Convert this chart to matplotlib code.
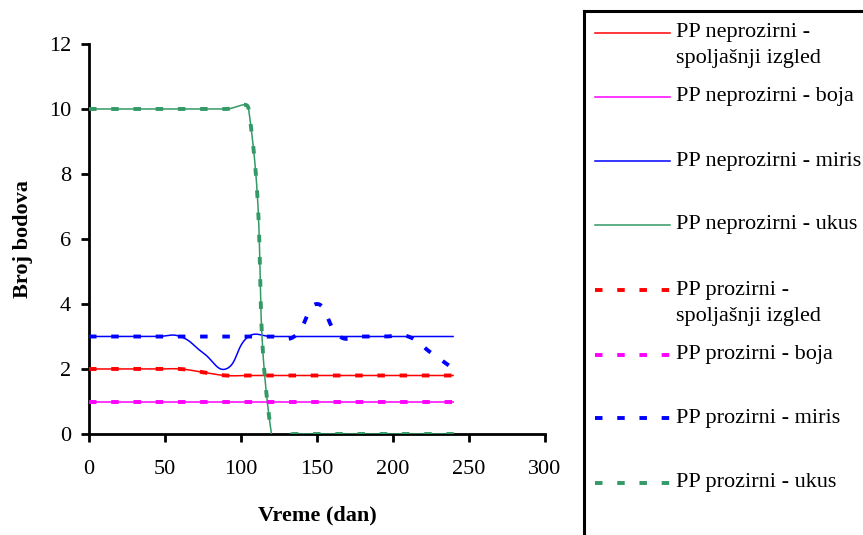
import numpy as np
import matplotlib
matplotlib.use("Agg")
import matplotlib.pyplot as plt

plt.rcParams['font.family'] = ['Liberation Serif', 'DejaVu Serif']
plt.rcParams['lines.scale_dashes'] = False

# ---------------- data ----------------
days = [0, 15, 30, 45, 60, 75, 90, 105, 120, 135, 150, 165, 180, 195, 210, 225, 240]

nep_izgled = [2, 2, 2, 2, 2, 1.9, 1.8, 1.8, 1.8, 1.8, 1.8, 1.8, 1.8, 1.8, 1.8, 1.8, 1.8]
nep_boja   = [1] * 17
nep_miris  = [3, 3, 3, 3, 3, 2.5, 2.0, 3, 3, 3, 3, 3, 3, 3, 3, 3, 3]
nep_ukus   = [10, 10, 10, 10, 10, 10, 10, 10, 0, 0, 0, 0, 0, 0, 0, 0, 0]

pro_izgled = [2, 2, 2, 2, 2, 1.9, 1.8, 1.8, 1.8, 1.8, 1.8, 1.8, 1.8, 1.8, 1.8, 1.8, 1.8]
pro_boja   = [1] * 17
pro_miris  = [3, 3, 3, 3, 3, 3, 3, 3, 3, 3, 4, 3, 3, 3, 3, 2.5, 2]
pro_ukus   = [10, 10, 10, 10, 10, 10, 10, 10, 0, 0, 0, 0, 0, 0, 0, 0, 0]

labels = ["PP neprozirni -\nspoljašnji izgled", "PP neprozirni - boja",
          "PP neprozirni - miris", "PP neprozirni - ukus",
          "PP prozirni -\nspoljašnji izgled", "PP prozirni - boja",
          "PP prozirni - miris", "PP prozirni - ukus"]

colors = ["#FF0000", "#FF00FF", "#0000FF", "#339966"]

xticks = [0, 50, 100, 150, 200, 250, 300]
yticks = [0, 2, 4, 6, 8, 10, 12]

# ---------------- figure ----------------
W, H = 863, 535
FS = 16
fig = plt.figure(figsize=(W / 100, H / 100), dpi=100)
ax = fig.add_axes([89 / W, (H - 434) / H, (545 - 89) / W, (434 - 44) / H])
ax.set_xlim(0, 300)
ax.set_ylim(0, 12)


def smooth(x, y, t=0.45, n=30):
    """Excel-like smoothed line via distance-weighted Bezier control points (screen space)."""
    x = np.asarray(x, float)
    y = np.asarray(y, float)
    sx = 456 / 300.0
    sy = 390 / 12.0
    P = np.column_stack([x * sx, y * sy])
    m = len(P)
    out = [P[0]]
    for i in range(m - 1):
        p0 = P[i - 1] if i > 0 else P[i]
        p1 = P[i]
        p2 = P[i + 1]
        p3 = P[i + 2] if i + 2 < m else P[i + 1]
        d0 = np.linalg.norm(p1 - p0)
        d1 = np.linalg.norm(p2 - p1)
        d2 = np.linalg.norm(p3 - p2)
        f1 = d1 / (d0 + d1) if d0 + d1 > 0 else 0
        f2 = d1 / (d1 + d2) if d1 + d2 > 0 else 0
        c1 = p1 + (p2 - p0) * t * f1
        c2 = p2 - (p3 - p1) * t * f2
        tt = np.linspace(0, 1, n)[1:, None]
        b = ((1 - tt) ** 3) * p1 + 3 * ((1 - tt) ** 2) * tt * c1 + 3 * (1 - tt) * tt ** 2 * c2 + tt ** 3 * p2
        out.extend(b)
    out = np.array(out)
    return out[:, 0] / sx, out[:, 1] / sy


solid = [nep_izgled, nep_boja, nep_miris, nep_ukus]
dashed = [pro_izgled, pro_boja, pro_miris, pro_ukus]
DASH = (5.4, 10.6)

for vals, c in zip(solid, colors):
    xs, ys = smooth(days, vals)
    ax.plot(xs, ys, color=c, lw=1.1, solid_capstyle='butt')
for vals, c in zip(dashed, colors):
    xs, ys = smooth(days, vals)
    ax.plot(xs, ys, color=c, lw=2.8, dashes=DASH, dash_capstyle='butt')

for s in ['top', 'right']:
    ax.spines[s].set_visible(False)
for s in ['left', 'bottom']:
    ax.spines[s].set_linewidth(2.0)
    ax.spines[s].set_zorder(1)
ax.set_xticks(xticks)
ax.set_yticks(yticks)
ax.tick_params(direction='out', length=6, width=2.0, labelsize=FS)
ax.tick_params(axis='x', pad=13)
ax.tick_params(axis='y', pad=7)
ax.set_xlabel("Vreme (dan)", fontsize=FS, fontweight='bold', labelpad=19)
ax.set_ylabel("Broj bodova", fontsize=FS, fontweight='bold', labelpad=11)

# ---------------- legend (manual, box clipped by figure edge) ----------------
lg = fig.add_axes([584 / W, -0.2, 0.6, (H - 11) / H + 0.2])
lg.set_xticks([])
lg.set_yticks([])
for s in lg.spines.values():
    s.set_linewidth(2.2)
lg.patch.set_facecolor('white')


def fy(py):
    return 1 - py / H


def fx(px):
    return px / W


ys_px = [33, 97, 161, 225, 290, 355, 418, 483]
for i, (lab, py) in enumerate(zip(labels, ys_px)):
    c = colors[i % 4]
    if i < 4:
        fig.add_artist(plt.Line2D([fx(595), fx(670)], [fy(py), fy(py)], color=c, lw=1.1))
    else:
        fig.add_artist(plt.Line2D([fx(595), fx(670)], [fy(py), fy(py)], color=c, lw=2.8,
                                  dashes=DASH, dash_capstyle='butt'))
    for k, line in enumerate(lab.split("\n")):
        fig.text(fx(676), fy(py + 26 * k), line, fontsize=FS, va='center', ha='left')

fig.savefig("out.png", dpi=100)
